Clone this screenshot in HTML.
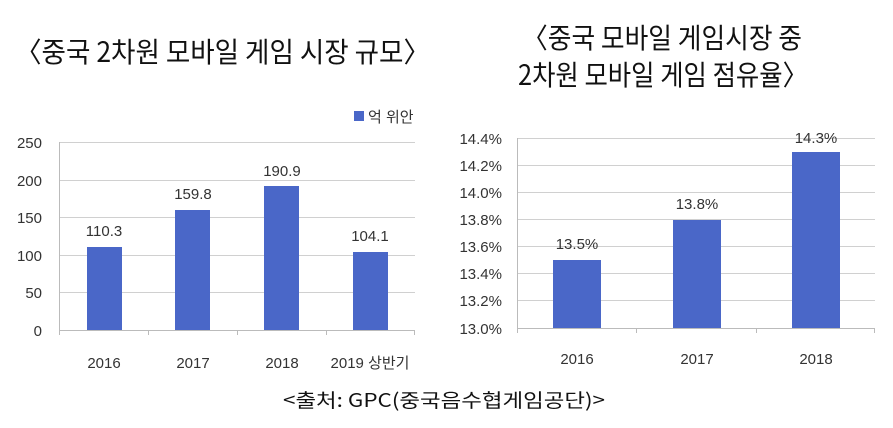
<!DOCTYPE html>
<html><head><meta charset="utf-8"><style>
html,body{margin:0;padding:0;background:#fff;}
svg{display:block;}
.t{font-family:"Noto Sans CJK KR","NanumGothic",sans-serif;fill:#111;}
.a{font-family:"Liberation Sans","Noto Sans CJK KR",sans-serif;fill:#333;font-size:15px;}
</style></head><body>
<svg width="893" height="428" viewBox="0 0 893 428" xmlns="http://www.w3.org/2000/svg">
<rect width="893" height="428" fill="#fff"/>
<text class="t" x="15" y="62" font-size="28" textLength="415" lengthAdjust="spacingAndGlyphs">〈중국  2차원 모바일 게임 시장 규모〉</text>
<text class="t" x="522" y="48" font-size="28" textLength="280" lengthAdjust="spacingAndGlyphs">〈중국 모바일 게임시장 중</text>
<text class="t" x="518" y="85" font-size="28" textLength="290" lengthAdjust="spacingAndGlyphs">2차원 모바일 게임 점유율〉</text>

<!-- left chart -->
<g stroke="#d0d0d0" stroke-width="1">
<line x1="60" y1="142.5" x2="415" y2="142.5"/>
<line x1="60" y1="180.5" x2="415" y2="180.5"/>
<line x1="60" y1="217.5" x2="415" y2="217.5"/>
<line x1="60" y1="255.5" x2="415" y2="255.5"/>
<line x1="60" y1="292.5" x2="415" y2="292.5"/>
</g>
<g stroke="#bbb" stroke-width="1">
<line x1="60" y1="330.5" x2="415" y2="330.5"/>
<line x1="59.5" y1="142" x2="59.5" y2="335"/>
<line x1="148.5" y1="330" x2="148.5" y2="335"/>
<line x1="237.5" y1="330" x2="237.5" y2="335"/>
<line x1="326.5" y1="330" x2="326.5" y2="335"/>
<line x1="414.5" y1="330" x2="414.5" y2="335"/>
</g>
<g class="a" text-anchor="end">
<text x="42" y="148">250</text><text x="42" y="186">200</text><text x="42" y="223">150</text>
<text x="42" y="261">100</text><text x="42" y="298">50</text><text x="42" y="336">0</text>
</g>
<g fill="#4a67c8">
<rect x="87" y="247" width="35" height="83"/>
<rect x="175" y="210" width="35" height="120"/>
<rect x="264" y="186" width="35" height="144"/>
<rect x="353" y="252" width="35" height="78"/>
<rect x="354" y="111" width="10" height="10"/>
</g>
<g class="a" text-anchor="middle">
<text x="104" y="236">110.3</text><text x="193" y="199">159.8</text>
<text x="282" y="176">190.9</text><text x="370" y="241">104.1</text>
<text x="104" y="368">2016</text><text x="193" y="368">2017</text>
<text x="282" y="368">2018</text><text x="370" y="368">2019 상반기</text>
</g>
<text class="a" x="368" y="122">억 위안</text>

<!-- right chart -->
<g stroke="#d0d0d0" stroke-width="1">
<line x1="517" y1="138.5" x2="875" y2="138.5"/>
<line x1="517" y1="165.5" x2="875" y2="165.5"/>
<line x1="517" y1="192.5" x2="875" y2="192.5"/>
<line x1="517" y1="219.5" x2="875" y2="219.5"/>
<line x1="517" y1="246.5" x2="875" y2="246.5"/>
<line x1="517" y1="273.5" x2="875" y2="273.5"/>
<line x1="517" y1="300.5" x2="875" y2="300.5"/>
</g>
<g stroke="#bbb" stroke-width="1">
<line x1="517" y1="328.5" x2="875" y2="328.5"/>
<line x1="517.5" y1="138" x2="517.5" y2="333"/>
<line x1="636.5" y1="328" x2="636.5" y2="333"/>
<line x1="756.5" y1="328" x2="756.5" y2="333"/>
<line x1="874.5" y1="328" x2="874.5" y2="333"/>
</g>
<g class="a" text-anchor="end">
<text x="502" y="144">14.4%</text><text x="502" y="171">14.2%</text><text x="502" y="198">14.0%</text>
<text x="502" y="225">13.8%</text><text x="502" y="252">13.6%</text><text x="502" y="279">13.4%</text>
<text x="502" y="306">13.2%</text><text x="502" y="334">13.0%</text>
</g>
<g fill="#4a67c8">
<rect x="553" y="260" width="48" height="68"/>
<rect x="673" y="220" width="48" height="108"/>
<rect x="792" y="152" width="48" height="176"/>
</g>
<g class="a" text-anchor="middle">
<text x="577" y="249">13.5%</text><text x="697" y="209">13.8%</text><text x="816" y="143">14.3%</text>
<text x="577" y="364">2016</text><text x="697" y="364">2017</text><text x="816" y="364">2018</text>
</g>

<text class="t" x="283" y="407" font-size="19" textLength="322" lengthAdjust="spacingAndGlyphs">&lt;출처: GPC(중국음수협게임공단)&gt;</text>
</svg>
</body></html>
